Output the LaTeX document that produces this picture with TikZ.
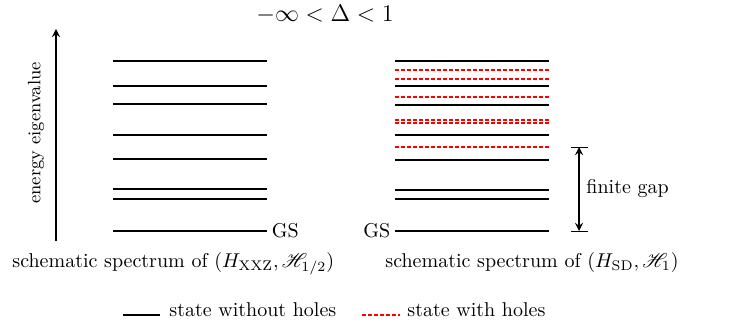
\documentclass[tikz,border=0pt]{standalone}
\usepackage{amsmath}
\usepackage{amssymb}
\usepackage{mathrsfs}
\usepackage{tikz}

\begin{document}
\begin{tikzpicture}[
    x=0.5pt, y=-0.5pt,
    level/.style={thick},
    holelevel/.style={semithick, red, dash pattern=on 2pt off 1pt},
    caption/.style={anchor=base west, inner sep=0pt},
    >=stealth
]
\useasboundingbox (0,0) rectangle (729,326);

% Title
\node[font=\large, anchor=base, inner sep=0pt] (title) at (325,22) {$-\infty < \Delta < 1$};

% Energy axis
\coordinate (ebot) at (56,241);
\coordinate (etop) at (56,29);
\draw[->, thick] (ebot) -- (etop);
\node[rotate=90, font=\small] (elabel) at (36,133) {energy eigenvalue};

% Left spectrum
\draw[level] (113,61) -- (267,61);
\draw[level] (113,86) -- (267,86);
\draw[level] (113,104) -- (267,104);
\draw[level] (113,135) -- (267,135);
\draw[level] (113,159) -- (267,159);
\draw[level] (113,189) -- (267,189);
\draw[level] (113,199) -- (267,199);
\draw[level] (113,231) -- (267,231) node[right, inner sep=2pt] (gsleft) {GS};

% Right spectrum, states without holes
\draw[level] (395,61) -- (549,61);
\draw[level] (395,86) -- (549,86);
\draw[level] (395,105) -- (549,105);
\draw[level] (395,135) -- (549,135);
\draw[level] (395,160) -- (549,160);
\draw[level] (395,190) -- (549,190);
\draw[level] (395,199) -- (549,199);
\draw[level] (549,231) -- (395,231) node[left, inner sep=2pt] (gsright) {GS};

% Right spectrum, states with holes
\draw[holelevel] (395,70) -- (549,70);
\draw[holelevel] (395,79) -- (549,79);
\draw[holelevel] (395,97) -- (549,97);
\draw[holelevel] (395,120) -- (549,120);
\draw[holelevel] (395,123) -- (549,123);
\draw[holelevel] (395,147) -- (549,147);

% Gap
\coordinate (gtop) at (579,147);
\coordinate (gbot) at (579,231);
\draw[thin] (571,147) -- (588,147);
\draw[thin] (571,231) -- (588,231);
\draw[<->, thick] (gtop) -- (gbot) node[midway, right] (gaplabel) {finite gap};

% Captions
\node[caption] (capxxz) at (12,268) {schematic spectrum of $(H_{\mathrm{XXZ}},\mathscr{H}_{1/2})$};
\node[caption] (capsd) at (385,268) {schematic spectrum of $(H_{\mathrm{SD}},\mathscr{H}_{1})$};

% Legend
\coordinate (la) at (123,315);
\coordinate (lb) at (160,315);
\coordinate (lc) at (362,315);
\coordinate (ld) at (400,315);
\draw[level] (la) -- (lb);
\node[caption] (legnohole) at (169,316) {state without holes};
\draw[holelevel] (lc) -- (ld);
\node[caption] (leghole) at (407,316) {state with holes};

\end{tikzpicture}
\end{document}
